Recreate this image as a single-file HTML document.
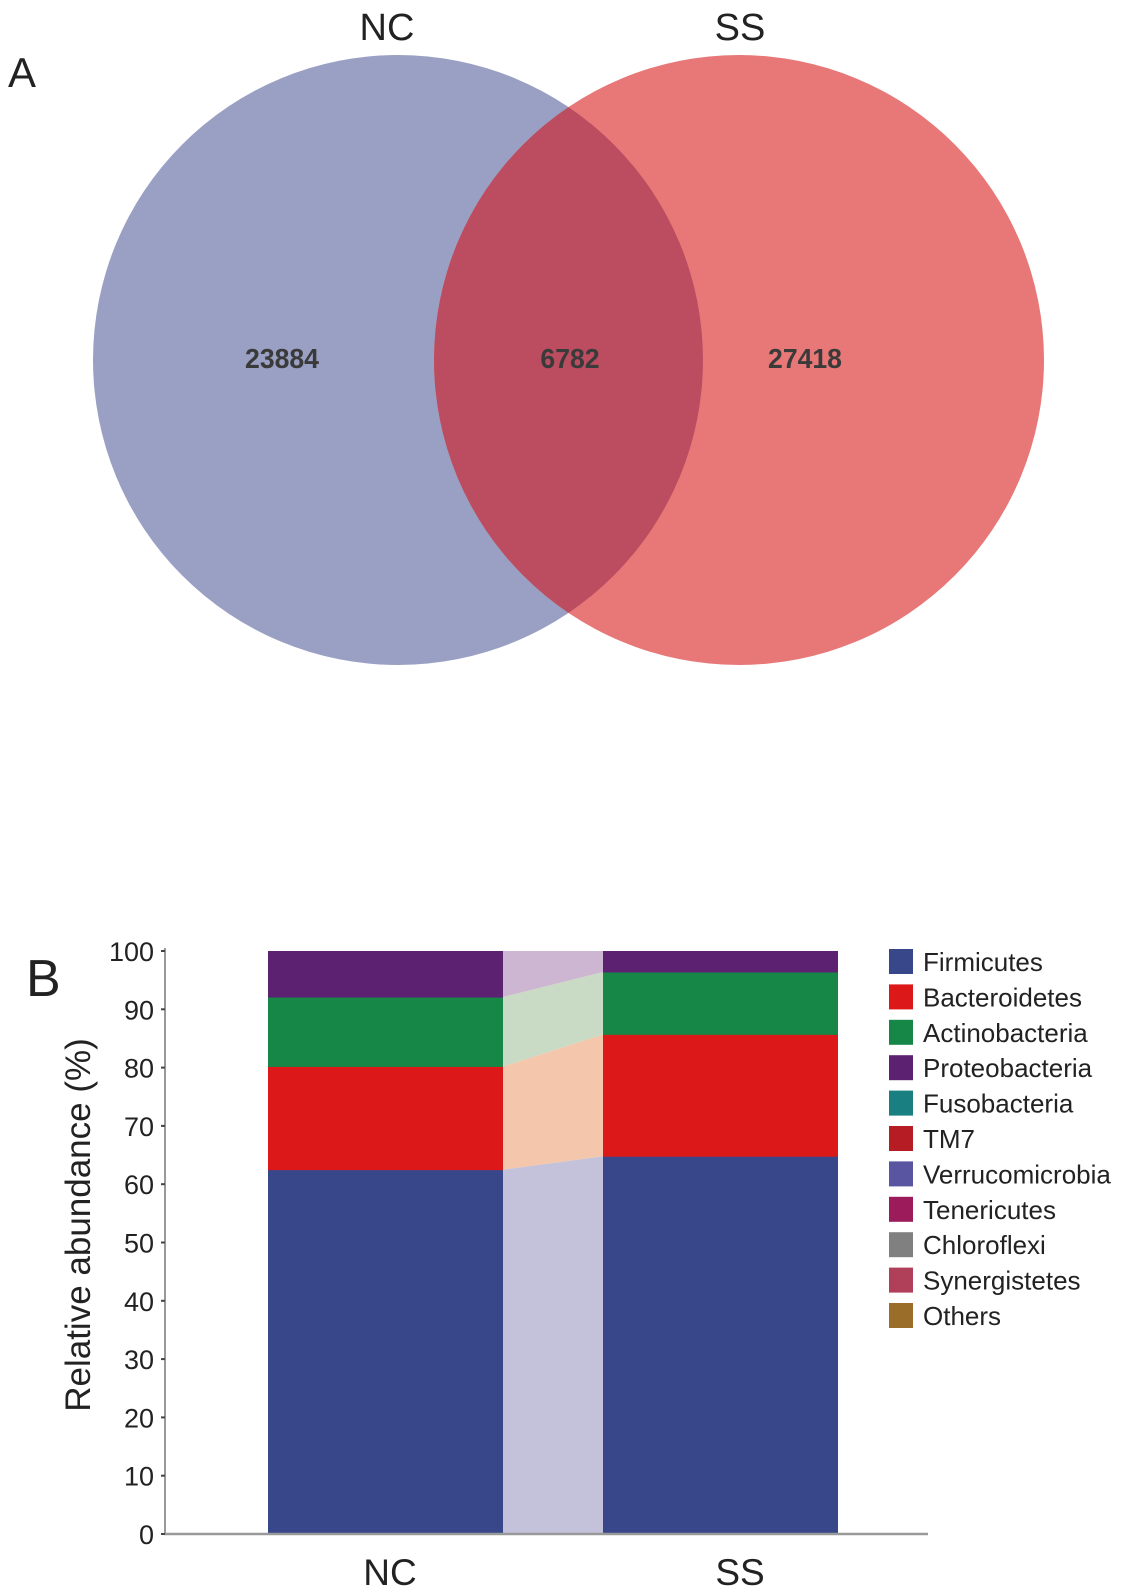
<!DOCTYPE html>
<html><head><meta charset="utf-8"><style>
html,body{margin:0;padding:0;background:#fff;}
svg{display:block;font-family:"Liberation Sans",Arial,sans-serif;}
</style></head><body>
<svg id="fig" width="1133" height="1594" viewBox="0 0 1133 1594">
  <g>
    <text x="8" y="87" font-size="42" fill="#222">A</text>
    <circle cx="398" cy="360" r="305" fill="#9aa0c4"/>
    <circle cx="739" cy="360" r="305" fill="#e87878"/>
    <clipPath id="clipL"><circle cx="398" cy="360" r="305"/></clipPath>
    <circle cx="739" cy="360" r="305" fill="#bc4d60" clip-path="url(#clipL)"/>
    <text x="387" y="40" font-size="38" text-anchor="middle" fill="#222">NC</text>
    <text x="740" y="40" font-size="38" text-anchor="middle" fill="#222">SS</text>
    <g font-size="28" font-weight="bold" text-anchor="middle" fill="#3a3a3a">
      <text transform="translate(282,368) scale(0.95,1)">23884</text>
      <text transform="translate(570,368) scale(0.95,1)">6782</text>
      <text transform="translate(805,368) scale(0.95,1)">27418</text>
    </g>
  </g>
  <g id="barpanel">
    <text x="26" y="996" font-size="52" fill="#222">B</text>
    <text transform="translate(90,1225) rotate(-90)" font-size="35" text-anchor="middle" fill="#222">Relative abundance (%)</text>
  </g>
</svg>
<script>
const categories = ['NC', 'SS'];
const phyla = ['Firmicutes','Bacteroidetes','Actinobacteria','Proteobacteria','Fusobacteria','TM7','Verrucomicrobia','Tenericutes','Chloroflexi','Synergistetes','Others'];
const ncValues = [62.5, 17.7, 11.9, 7.9, 0, 0, 0, 0, 0, 0, 0];
const ssValues = [64.8, 20.9, 10.7, 3.6, 0, 0, 0, 0, 0, 0, 0];
const yTicks = [0,10,20,30,40,50,60,70,80,90,100];

const colors = ['#38468a','#dd1818','#168747','#5c2170','#1a7f80','#b51c24','#5a55a0','#9b1b5b','#808080','#b0405a','#9a6e28'];
const linkColors = ['#c4c1da','#f4c6ab','#c9dbc4','#cdb6d2','#b5d6d6','#e6b5b5','#cccbe3','#dcb5c9','#d6d6d6','#e2bcc5','#dccab0'];
const NS = 'http://www.w3.org/2000/svg';
const g = document.getElementById('barpanel');
const y0 = 1534, y1 = 951;
const yScale = v => y0 - (v / 100) * (y0 - y1);
const barX = [268, 603], barW = 235;
const labelX = [390, 740];

function mk(tag, attrs) {
  const e = document.createElementNS(NS, tag);
  for (const k in attrs) e.setAttribute(k, attrs[k]);
  g.appendChild(e);
  return e;
}
const series = [ncValues, ssValues];
let cumA = 0, cumB = 0;
phyla.forEach((p, i) => {
  const a = ncValues[i], b = ssValues[i];
  if (a + b > 0) {
    const xa = barX[0] + barW, xb = barX[1];
    const pts = `${xa},${yScale(cumA)} ${xb},${yScale(cumB)} ${xb},${yScale(cumB + b)} ${xa},${yScale(cumA + a)}`;
    const el = mk('polygon', { points: pts, fill: linkColors[i] });
    
    
  }
  cumA += a; cumB += b;
});
categories.forEach((c, ci) => {
  let cum = 0;
  phyla.forEach((p, i) => {
    const v = series[ci][i];
    if (v > 0) {
      const el = mk('rect', { x: barX[ci], y: yScale(cum + v), width: barW, height: yScale(cum) - yScale(cum + v) + 0.5, fill: colors[i] });
      
      
    }
    cum += v;
  });
  const t = mk('text', { x: labelX[ci], y: 1585, 'font-size': 37, 'text-anchor': 'middle', fill: '#222' });
  t.textContent = c;
  
  
});
const ya = mk('line', { x1: 165, y1: y1 - 3, x2: 165, y2: y0, stroke: '#999', 'stroke-width': 2 });


const xa = mk('line', { x1: 164, y1: y0, x2: 928, y2: y0, stroke: '#999', 'stroke-width': 2.5 });


yTicks.forEach(v => {
  const tk = mk('line', { x1: 161, y1: yScale(v), x2: 165, y2: yScale(v), stroke: '#444', 'stroke-width': 2 });
  
  
  const t = mk('text', { x: 154, y: yScale(v) + 10, 'font-size': 27, 'text-anchor': 'end', fill: '#222' });
  t.textContent = v;
  
  
});
phyla.forEach((p, i) => {
  const ly = 949 + i * 35.4;
  const r = mk('rect', { x: 889, y: ly, width: 24, height: 25, fill: colors[i] });
  
  
  const t = mk('text', { x: 923, y: ly + 22, 'font-size': 26, fill: '#222' });
  t.textContent = p;
  
  
});
</script>
</body></html>
